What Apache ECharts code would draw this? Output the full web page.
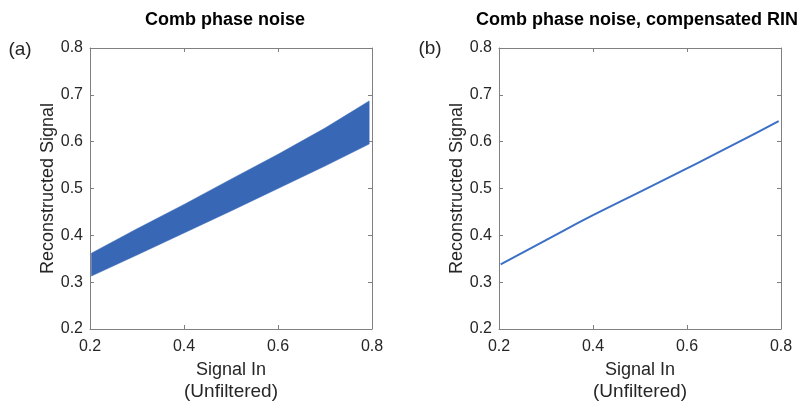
<!DOCTYPE html>
<html>
<head>
<meta charset="utf-8">
<script src="https://cdn.jsdelivr.net/npm/echarts@6/dist/echarts.min.js"></script>
<style>
  html, body { margin: 0; padding: 0; background: #fff; }
  #chart { width: 801px; height: 402px; }
</style>
</head>
<body>
<div id="chart"></div>
<script>
// values
const xTicks = [0.2, 0.4, 0.6, 0.8];
const yTicks = [0.2, 0.3, 0.4, 0.5, 0.6, 0.7, 0.8];

// (a) band of reconstructed signal
const bandX = [0.203, 0.3, 0.4, 0.5, 0.6, 0.7, 0.794];
const bandLow = [0.313, 0.358, 0.405, 0.452, 0.500, 0.548, 0.595];
const bandHigh = [0.362, 0.414, 0.466, 0.520, 0.573, 0.629, 0.687];

// (b) compensated
const lineX = [0.2035, 0.3, 0.4, 0.5, 0.6, 0.7, 0.795];
const lineY = [0.338, 0.390, 0.443, 0.493, 0.543, 0.594, 0.644];

const FONT = 'Liberation Sans, Arial, Helvetica, sans-serif';
const TXT = '#262626';
const BOX = '#808080';

const chart = echarts.init(document.getElementById('chart'));

const grids = [
  { left: 90, top: 48, width: 282, height: 281, outerBoundsMode: 'none' },
  { left: 499, top: 48, width: 282, height: 281, outerBoundsMode: 'none' }
];

function xAxes(gi) {
  const base = {
    type: 'value', gridIndex: gi, min: xTicks[0], max: xTicks[xTicks.length - 1], interval: 0.2,
    splitLine: { show: false },
    axisLine: { show: true, lineStyle: { color: BOX, width: 1 } },
    axisTick: { show: true, inside: true, length: 4, lineStyle: { color: BOX } }
  };
  return [
    Object.assign({}, base, {
      position: 'bottom',
      axisLabel: { fontSize: 16, fontFamily: FONT, color: TXT, margin: 10,
        formatter: v => v.toFixed(1) },
      name: '{a|Signal In}\n{b|(Unfiltered)}',
      nameLocation: 'middle',
      nameGap: 30,
      nameTextStyle: {
        fontFamily: FONT, color: TXT,
        rich: {
          a: { fontSize: 18, lineHeight: 22, fontFamily: FONT, color: TXT },
          b: { fontSize: 19, lineHeight: 22, fontFamily: FONT, color: TXT }
        }
      }
    }),
    Object.assign({}, base, { position: 'top', axisLabel: { show: false } })
  ];
}

function yAxes(gi) {
  const base = {
    type: 'value', gridIndex: gi, min: yTicks[0], max: yTicks[yTicks.length - 1], interval: 0.1,
    splitLine: { show: false },
    axisLine: { show: true, lineStyle: { color: BOX, width: 1 } },
    axisTick: { show: true, inside: true, length: 4, lineStyle: { color: BOX } }
  };
  return [
    Object.assign({}, base, {
      position: 'left',
      axisLabel: { fontSize: 16, fontFamily: FONT, color: TXT, margin: 7,
        formatter: v => v.toFixed(1) },
      name: 'Reconstructed Signal',
      nameLocation: 'middle',
      nameGap: 33,
      nameTextStyle: { fontSize: 18, fontFamily: FONT, color: TXT }
    }),
    Object.assign({}, base, { position: 'right', axisLabel: { show: false } })
  ];
}

const xAxis = xAxes(0).concat(xAxes(1));
const yAxis = yAxes(0).concat(yAxes(1));

const lineData = lineX.map((x, i) => [x, lineY[i]]);

function label(text, x, y, size, weight) {
  return {
    type: 'text', x: x, y: y,
    style: {
      text: text, fontSize: size, fontWeight: weight || 'normal', fontFamily: FONT,
      fill: weight === 'bold' ? '#000' : TXT, align: 'center', verticalAlign: 'middle'
    }
  };
}

// band polygon: upper edge left->right, lower edge right->left
function renderBand(params, api) {
  const pts = [];
  bandX.forEach((x, i) => pts.push(api.coord([x, bandHigh[i]])));
  for (let i = bandX.length - 1; i >= 0; i--) pts.push(api.coord([bandX[i], bandLow[i]]));
  return {
    type: 'polygon',
    shape: { points: pts },
    style: { fill: '#3767b5', stroke: '#3767b5', lineWidth: 0.5 }
  };
}

chart.setOption({
  animation: false,
  backgroundColor: '#fff',
  grid: grids,
  xAxis: xAxis,
  yAxis: yAxis,
  graphic: [
    label('Comb phase noise', 225, 20, 18, 'bold'),
    label('Comb phase noise, compensated RIN', 637, 20, 18, 'bold'),
    label('(a)', 20, 50, 19),
    label('(b)', 430, 49, 19)
  ],
  series: [
    {
      type: 'custom', xAxisIndex: 0, yAxisIndex: 0,
      coordinateSystem: 'cartesian2d',
      data: [[bandX[0], bandLow[0]]],
      renderItem: renderBand
    },
    {
      type: 'line', xAxisIndex: 2, yAxisIndex: 2,
      data: lineData, symbol: 'none', smooth: true,
      lineStyle: { color: '#3b70c6', width: 2 }
    }
  ]
});
</script>
</body>
</html>
